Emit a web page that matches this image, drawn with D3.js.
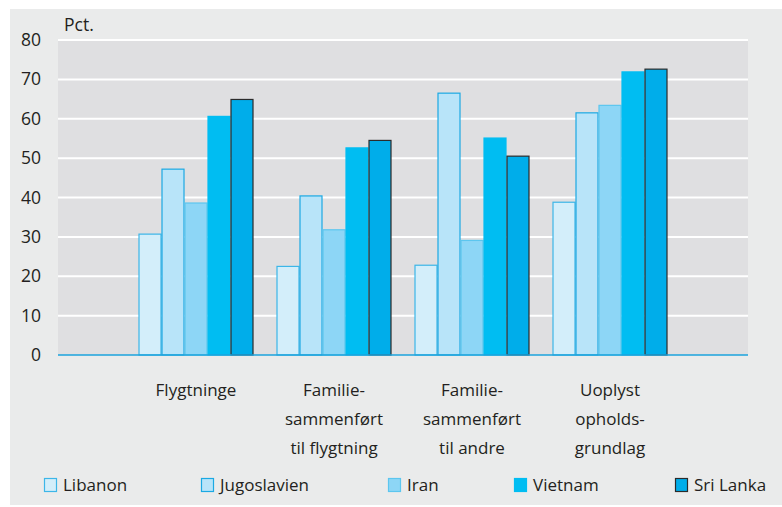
<!DOCTYPE html>
<html>
<head>
<meta charset="utf-8">
<script src="https://cdn.jsdelivr.net/npm/d3@7"></script>
<style>
  html, body { margin: 0; padding: 0; background: #fff; }
  svg text { font-family: "Open Sans", sans-serif; fill: #231f20; }
</style>
</head>
<body>
<div id="chart"></div>
<script>
// ── Data ─────────────────────────────────────────────────────────────────────
const CATEGORIES = [
  ["Flygtninge"],
  ["Familie-", "sammenført", "til flygtning"],
  ["Familie-", "sammenført", "til andre"],
  ["Uoplyst", "opholds-", "grundlag"]
];
const SERIES = ["Libanon", "Jugoslavien", "Iran", "Vietnam", "Sri Lanka"];
const LIBANON     = [30.7, 22.5, 22.8, 38.8];
const JUGOSLAVIEN = [47.2, 40.4, 66.5, 61.5];
const IRAN        = [38.6, 31.8, 29.1, 63.4];
const VIETNAM     = [60.6, 52.6, 55.1, 71.9];
const SRI_LANKA   = [64.9, 54.5, 50.5, 72.6];
const VALUES = [LIBANON, JUGOSLAVIEN, IRAN, VIETNAM, SRI_LANKA];
const Y_TICKS = [0, 10, 20, 30, 40, 50, 60, 70, 80];

const FILLS   = ["#d3eefa", "#b8e4f9", "#8dd6f6", "#00bdf2", "#00adea"];
const STROKES = ["#3cb6e8", "#1ba9e3", "#5cc6ef", "#00bdf2", "#2b2b2b"];

// ── Layout ───────────────────────────────────────────────────────────────────
const W = 782, H = 507;
const plot = { left: 58, right: 748, top: 40, bottom: 355 };

const svg = d3.select("#chart").append("svg")
  .attr("width", W).attr("height", H);

svg.append("rect")
  .attr("x", 10).attr("y", 9)
  .attr("width", W - 10).attr("height", H - 11)
  .attr("fill", "#eaebeb");

svg.append("rect")
  .attr("x", plot.left).attr("y", plot.top)
  .attr("width", plot.right - plot.left).attr("height", plot.bottom - plot.top)
  .attr("fill", "#dfdfe1");

const y = d3.scaleLinear().domain([0, 80]).range([plot.bottom, plot.top]);
const x = d3.scalePoint()
  .domain(d3.range(CATEGORIES.length))
  .range([plot.left, plot.right])
  .padding(1);
const barW = 23;
const xs = d3.scaleBand()
  .domain(d3.range(SERIES.length))
  .range([-barW * SERIES.length / 2, barW * SERIES.length / 2])
  .padding(0);

// Grid lines
svg.append("g").selectAll("line")
  .data(Y_TICKS.filter(t => t > 0))
  .join("line")
  .attr("x1", plot.left).attr("x2", plot.right)
  .attr("y1", d => y(d)).attr("y2", d => y(d))
  .attr("stroke", "#fff").attr("stroke-width", 2);

// Y tick labels
svg.append("g").selectAll("text")
  .data(Y_TICKS)
  .join("text")
  .attr("x", 41).attr("y", d => y(d) + 6)
  .attr("text-anchor", "end")
  .attr("font-size", 17.5)
  .text(d => d);

svg.append("text")
  .attr("x", 64).attr("y", 31)
  .attr("font-size", 17.5)
  .text("Pct.");

// Bars
SERIES.forEach(function (s, si) {
  svg.append("g").selectAll("rect")
    .data(VALUES[si])
    .join("rect")
    .attr("x", (d, i) => x(i) + xs(si) + 0.5)
    .attr("y", d => y(d))
    .attr("width", xs.bandwidth() - 1)
    .attr("height", d => plot.bottom - y(d))
    .attr("fill", FILLS[si])
    .attr("stroke", STROKES[si])
    .attr("stroke-width", 1.2);
});

// Baseline
svg.append("line")
  .attr("x1", plot.left).attr("x2", plot.right)
  .attr("y1", plot.bottom).attr("y2", plot.bottom)
  .attr("stroke", "#1ba3dd").attr("stroke-width", 1.5);

// Category labels
CATEGORIES.forEach(function (lines, ci) {
  svg.append("text")
    .attr("text-anchor", "middle")
    .attr("font-size", 17)
    .selectAll("tspan")
    .data(lines)
    .join("tspan")
    .attr("x", x(ci))
    .attr("y", (d, li) => 396 + li * 29)
    .text(d => d);
});

// Legend
const LEGEND_X = [44, 201, 388, 514, 675];
const legend = svg.append("g").selectAll("g")
  .data(SERIES)
  .join("g")
  .attr("transform", (d, i) => `translate(${LEGEND_X[i]},478)`);
legend.append("rect")
  .attr("x", 0.5).attr("y", 0.5)
  .attr("width", 12).attr("height", 13)
  .attr("fill", (d, i) => FILLS[i])
  .attr("stroke", (d, i) => STROKES[i])
  .attr("stroke-width", 1.2);
legend.append("text")
  .attr("x", 19).attr("y", 13)
  .attr("font-size", 17)
  .text(d => d);
</script>
</body>
</html>
